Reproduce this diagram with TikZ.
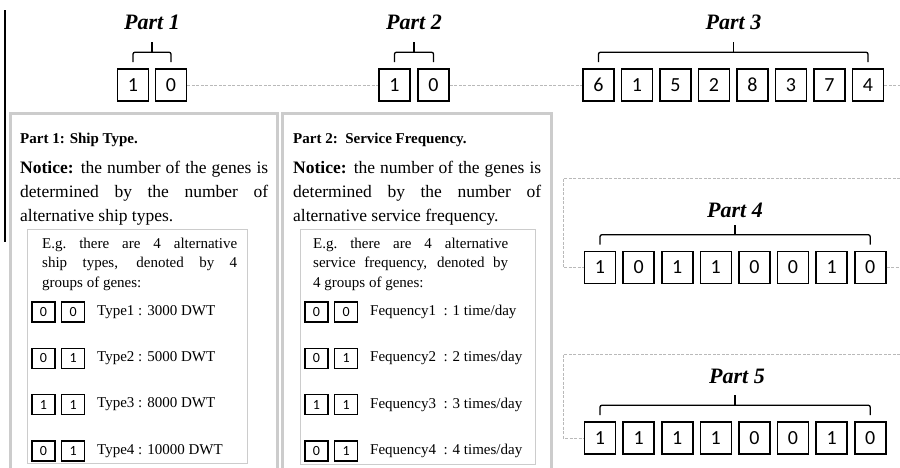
\documentclass[tikz,border=0pt]{standalone}
\usepackage{fontspec}
\setmainfont{Liberation Serif}
\newfontfamily\genefont{Carlito}
\usetikzlibrary{positioning}

\tikzset{
  gene/.style={draw, line width=1.6pt, minimum width=31pt, minimum height=32pt, inner sep=0pt, font=\genefont\fontsize{20}{20}\selectfont},
  minigene/.style={draw, line width=1.6pt, minimum width=23pt, minimum height=20pt, inner sep=0pt, font=\genefont\fontsize{14}{14}\selectfont},
  partlabel/.style={font=\bfseries\itshape\fontsize{22}{22}\selectfont},
  brace/.style={line width=1.3pt, rounded corners=2pt},
  link/.style={draw=gray!55, line width=0.8pt, dash pattern=on 3pt off 1.5pt},
  panel/.style={draw=gray!40, line width=3pt},
  inner/.style={draw=gray!40, line width=0.8pt},
  title/.style={anchor=base west, inner sep=0pt, font=\bfseries\fontsize{15}{18}\selectfont},
  notice/.style={anchor=north west, inner sep=0pt, text width=248pt, align=justify, font=\fontsize{17.5}{24}\selectfont},
  example/.style={anchor=north west, inner sep=0pt, text width=195pt, align=justify, font=\fontsize{15}{19.5}\selectfont},
  rowtext/.style={anchor=west, inner sep=0pt, font=\fontsize{15}{15}\selectfont},
}

\begin{document}
\begin{tikzpicture}[x=1pt, y=-1pt]
\clip (0,0) rectangle (900,467);

% panels
\draw[panel] (10,113) rectangle (277,490);
\draw[panel] (282,113) rectangle (551,490);
\draw[inner] (27,229) rectangle (247,463);
\draw[inner] (300,229) rectangle (535,464);
\draw[line width=1.2pt] (5,10) -- (5,242);

% Part 1 and Part 2
\node[gene] (p1-1) at (133,85) {1};
\node[gene] (p1-2) at (171,85) {0};
\node[gene] (p2-1) at (394.5,85) {1};
\node[gene] (p2-2) at (433.5,85) {0};

% Part 3, 4, 5
\foreach \g [count=\i] in {6,1,5,2,8,3,7,4}
  \node[gene] (p3-\i) at ({598.5+38.5*(\i-1)},85) {\g};
\foreach \g [count=\i] in {1,0,1,1,0,0,1,0}
  \node[gene] (p4-\i) at ({600+38.6*(\i-1)},267.5) {\g};
\foreach \g [count=\i] in {1,1,1,1,0,0,1,0}
  \node[gene] (p5-\i) at ({600+38.6*(\i-1)},438) {\g};

% braces
\foreach \a/\b in {p1-1/p1-2, p2-1/p2-2, p3-1/p3-8, p4-1/p4-8, p5-1/p5-8} {
  \draw[brace] ([yshift=6pt]\a.north) -- ([yshift=16pt]\a.north)
    -- coordinate[midway] (mid) ([yshift=16pt]\b.north) -- ([yshift=6pt]\b.north);
  \draw[brace] (mid) -- ([yshift=10pt]mid);
}

\node[partlabel] (lab1) at (152,22) {Part 1};
\node[partlabel] (lab2) at (414,22) {Part 2};
\node[partlabel] (lab3) at (733.5,22) {Part 3};
\node[partlabel] (lab4) at (735,210) {Part 4};
\node[partlabel] (lab5) at (737,376) {Part 5};

% dashed links
\coordinate (out3) at (900,85);
\coordinate (in4) at (900,178);
\coordinate (turn4) at (563,178);
\coordinate (out4) at (900,267.5);
\coordinate (in5) at (900,354);
\coordinate (turn5) at (563,354);

\draw[link] (p1-2) -- (p2-1);
\draw[link] (p2-2) -- (p3-1);
\draw[link] (p3-8) -- (out3);
\draw[link] (in4) -- (turn4) |- (p4-1);
\draw[link] (p4-8) -- (out4);
\draw[link] (in5) -- (turn5) |- (p5-1);

% Part 1 panel
\node[title] (t1) at (20,143) {Part 1: Ship Type.};
\node[notice] (n1) at (20,161) {\textbf{Notice:} the number of the genes is\linebreak determined by the number of\linebreak alternative ship types.};
\node[example] (e1) at (42,237.5) {E.g.\ there are 4 alternative\linebreak ship types, denoted by 4\linebreak groups of genes:};
\foreach \a/\b/\t [count=\i] in {0/0/{Type1 : 3000 DWT}, 0/1/{Type2 : 5000 DWT}, 1/1/{Type3 : 8000 DWT}, 0/1/{Type4 : 10000 DWT}} {
  \node[minigene] (s\i a) at (43.5,{312+46.3*(\i-1)}) {\a};
  \node[minigene, right=5pt of s\i a] (s\i b) {\b};
  \node[rowtext] (s\i t) at (97,{312+46.3*(\i-1)}) {\t};
}

% Part 2 panel
\node[title] (t2) at (293,143) {Part 2:\ \ Service Frequency.};
\node[notice] (n2) at (293,161) {\textbf{Notice:} the number of the genes is\linebreak determined by the number of\linebreak alternative service frequency.};
\node[example] (e2) at (313,237.5) {E.g.\ there are 4 alternative\linebreak service frequency, denoted by\linebreak 4 groups of genes:};
\foreach \a/\b/\t [count=\i] in {0/0/{Fequency1~~: 1 time/day}, 0/1/{Fequency2~~: 2 times/day}, 1/1/{Fequency3~~: 3 times/day}, 0/1/{Fequency4~~: 4 times/day}} {
  \node[minigene] (f\i a) at (316.5,{312+46.3*(\i-1)}) {\a};
  \node[minigene, right=5pt of f\i a] (f\i b) {\b};
  \node[rowtext] (f\i t) at (370,{312+46.3*(\i-1)}) {\t};
}
\end{tikzpicture}
\end{document}
